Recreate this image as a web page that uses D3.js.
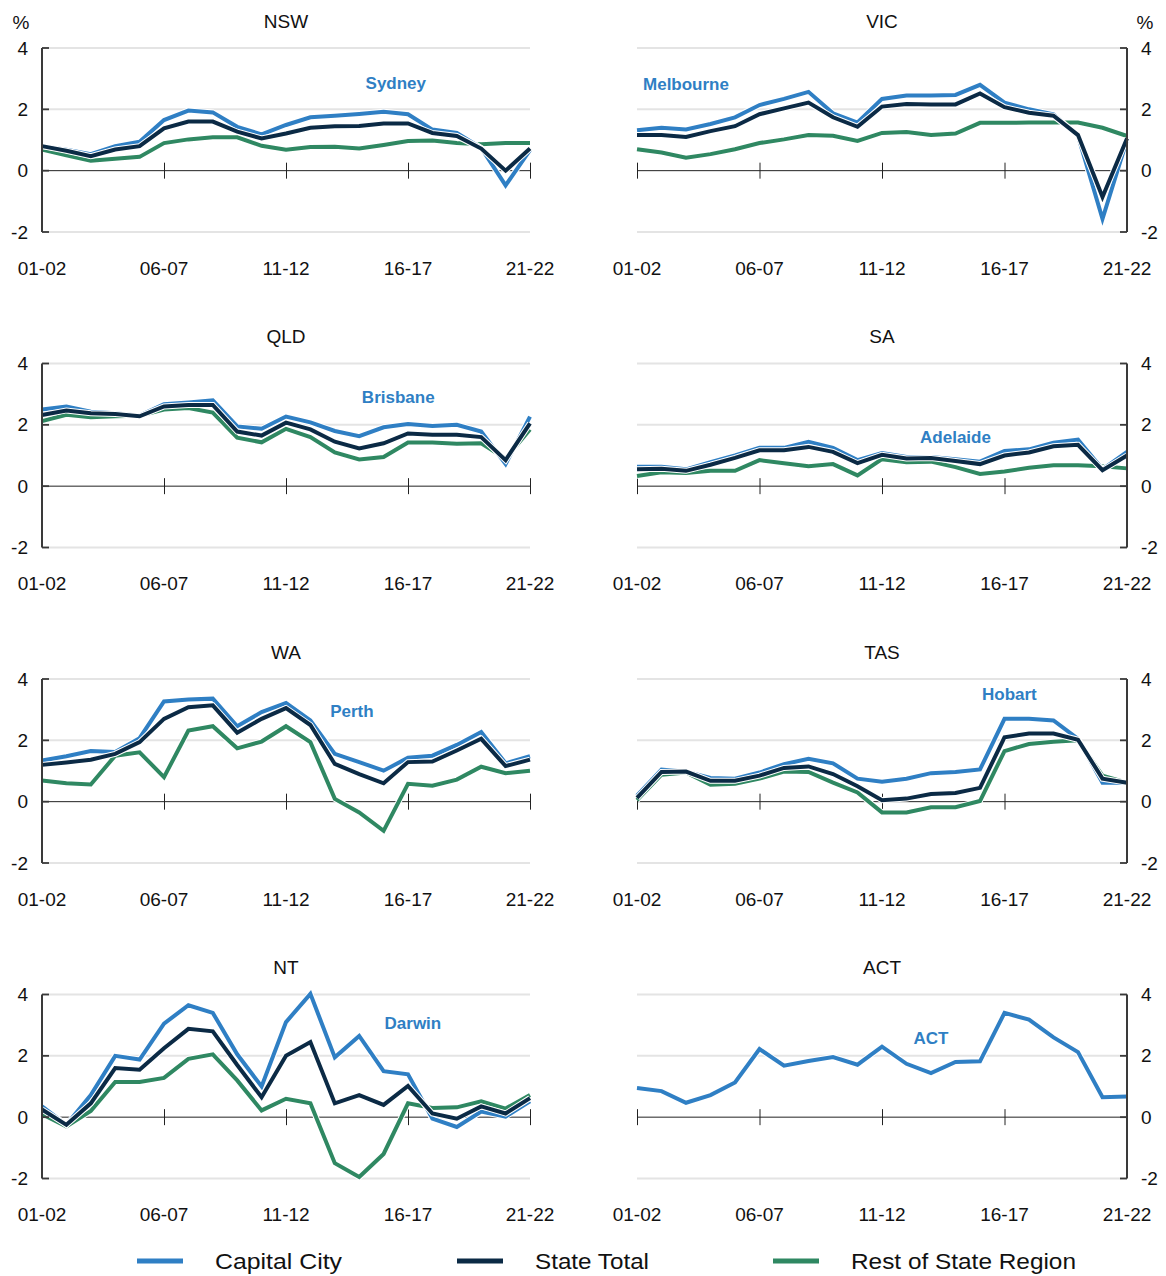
<!DOCTYPE html>
<html><head><meta charset="utf-8">
<script src="https://cdn.jsdelivr.net/npm/d3@7"></script>
<style>body{margin:0;background:#fff}svg{display:block}text{font-family:"Liberation Sans",Arial,sans-serif}</style>
</head><body><svg id="c" width="1166" height="1276"></svg>
<script>
const periods = ["01-02","02-03","03-04","04-05","05-06","06-07","07-08","08-09","09-10","10-11","11-12","12-13","13-14","14-15","15-16","16-17","17-18","18-19","19-20","20-21","21-22"];
const tickLabels = ["01-02","06-07","11-12","16-17","21-22"];
const yTicks = [4,2,0,-2];
const seriesNames = ["Capital City","State Total","Rest of State Region"];
const states = ["NSW","VIC","QLD","SA","WA","TAS","NT","ACT"];
const cityNames = ["Sydney","Melbourne","Brisbane","Adelaide","Perth","Hobart","Darwin","ACT"];

const nswCity  = [0.8,0.68,0.54,0.8,0.94,1.65,1.96,1.9,1.43,1.18,1.49,1.74,1.79,1.85,1.92,1.84,1.34,1.23,0.74,-0.48,0.67];
const nswState = [0.8,0.65,0.47,0.69,0.8,1.38,1.6,1.6,1.27,1.05,1.21,1.4,1.45,1.46,1.54,1.54,1.23,1.13,0.72,0.0,0.72];
const nswRest  = [0.69,0.5,0.32,0.39,0.45,0.9,1.02,1.09,1.09,0.81,0.68,0.77,0.78,0.72,0.84,0.97,0.98,0.9,0.86,0.9,0.9];

const vicCity  = [1.32,1.4,1.34,1.52,1.74,2.14,2.34,2.57,1.87,1.57,2.34,2.45,2.45,2.47,2.8,2.22,2.0,1.84,1.13,-1.57,1.0];
const vicState = [1.16,1.16,1.1,1.29,1.45,1.84,2.03,2.22,1.74,1.43,2.09,2.17,2.16,2.16,2.52,2.07,1.89,1.79,1.16,-0.86,1.05];
const vicRest  = [0.7,0.59,0.42,0.54,0.7,0.9,1.02,1.16,1.14,0.97,1.23,1.26,1.16,1.21,1.56,1.56,1.57,1.57,1.57,1.4,1.13];

const qldCity  = [2.5,2.6,2.43,2.38,2.3,2.67,2.73,2.8,1.95,1.87,2.27,2.08,1.8,1.63,1.92,2.03,1.96,2.0,1.78,0.72,2.27];
const qldState = [2.32,2.47,2.38,2.35,2.28,2.6,2.65,2.65,1.78,1.65,2.07,1.85,1.45,1.23,1.4,1.72,1.68,1.68,1.6,0.85,2.05];
const qldRest  = [2.12,2.33,2.25,2.28,2.3,2.5,2.55,2.4,1.58,1.43,1.87,1.6,1.1,0.87,0.95,1.42,1.42,1.38,1.4,0.9,1.85];

const saCity  = [0.63,0.63,0.55,0.78,1.0,1.25,1.25,1.45,1.25,0.85,1.08,0.95,0.95,0.88,0.8,1.15,1.2,1.42,1.52,0.55,1.12];
const saState = [0.55,0.57,0.5,0.7,0.92,1.17,1.17,1.28,1.12,0.75,1.02,0.9,0.92,0.82,0.72,1.0,1.1,1.3,1.35,0.52,1.0];
const saRest  = [0.33,0.45,0.43,0.5,0.5,0.85,0.75,0.65,0.72,0.35,0.88,0.78,0.8,0.62,0.4,0.48,0.6,0.68,0.68,0.65,0.58];

const waCity  = [1.34,1.48,1.65,1.62,2.07,3.27,3.33,3.36,2.46,2.92,3.22,2.65,1.56,1.29,1.01,1.43,1.5,1.85,2.27,1.25,1.48];
const waState = [1.2,1.28,1.37,1.56,1.94,2.7,3.08,3.14,2.25,2.7,3.05,2.5,1.23,0.9,0.6,1.29,1.31,1.67,2.05,1.16,1.37];
const waRest  = [0.69,0.6,0.56,1.5,1.61,0.8,2.32,2.46,1.74,1.96,2.46,1.94,0.09,-0.35,-0.95,0.58,0.52,0.72,1.14,0.93,1.01];

const tasCity  = [0.2,1.05,0.98,0.77,0.75,0.95,1.22,1.4,1.25,0.75,0.65,0.75,0.93,0.97,1.05,2.7,2.7,2.65,2.05,0.62,0.62];
const tasState = [0.12,0.97,0.98,0.68,0.68,0.85,1.1,1.15,0.9,0.5,0.05,0.1,0.25,0.28,0.45,2.1,2.22,2.22,2.02,0.75,0.62];
const tasRest  = [0.05,0.88,0.95,0.55,0.58,0.75,0.98,0.97,0.62,0.3,-0.35,-0.35,-0.18,-0.18,0.02,1.65,1.88,1.95,2.0,0.85,0.62];

const ntCity  = [0.35,-0.25,0.72,2.0,1.88,3.05,3.65,3.4,2.05,1.0,3.1,4.02,1.95,2.65,1.5,1.4,-0.05,-0.32,0.18,0.02,0.52];
const ntState = [0.25,-0.25,0.45,1.6,1.55,2.25,2.88,2.8,1.7,0.65,2.0,2.45,0.45,0.72,0.4,1.02,0.12,-0.05,0.35,0.12,0.62];
const ntRest  = [0.1,-0.3,0.2,1.15,1.15,1.28,1.9,2.05,1.2,0.22,0.6,0.45,-1.5,-1.95,-1.2,0.45,0.3,0.32,0.52,0.28,0.72];

const actCity = [0.95,0.85,0.47,0.72,1.13,2.22,1.68,1.83,1.96,1.71,2.3,1.74,1.44,1.8,1.82,3.4,3.18,2.6,2.12,0.65,0.67];

// label anchor in data coordinates [period index, value]
const cityLabelAt = [[14.5,2.87],[2.0,2.81],[14.6,2.9],[13.0,1.6],[12.7,2.97],[15.2,3.52],[15.2,3.07],[12.0,2.58]];

const panelSeries = [
  [nswCity,nswState,nswRest],[vicCity,vicState,vicRest],
  [qldCity,qldState,qldRest],[saCity,saState,saRest],
  [waCity,waState,waRest],[tasCity,tasState,tasRest],
  [ntCity,ntState,ntRest],[actCity,null,null]
];

const colors = ["#2f7fc4","#0b2a45","#2f8862"];
const svg = d3.select("#c");
const FS = 19;

const colX = [[42,530],[637,1127]];
const rowTop = [48,363.5,679,994.5];
const plotH = 184;

states.forEach((st,i)=>{
  const col = i%2, row = Math.floor(i/2);
  const [x0,x1] = colX[col];
  const yTop = rowTop[row];
  const x = d3.scalePoint().domain(periods).range([x0,x1]);
  const xi = d3.scaleLinear().domain([0,periods.length-1]).range([x0,x1]);
  const y = d3.scaleLinear().domain([-2,4]).range([yTop+plotH,yTop]);
  const g = svg.append("g");

  // gridlines
  g.selectAll(".grid").data(yTicks.filter(t=>t!==0)).join("line")
    .attr("x1",x0).attr("x2",x1).attr("y1",d=>y(d)).attr("y2",d=>y(d))
    .attr("stroke","#e4e4e4").attr("stroke-width",2);

  // y axis labels
  const axisX = col===0 ? x0 : x1;
  const yAxis = col===0 ? d3.axisLeft(y) : d3.axisRight(y);
  const ya = g.append("g").attr("transform",`translate(${axisX},0)`)
    .call(yAxis.tickValues(yTicks).tickSize(0).tickPadding(14).tickFormat(d=>String(d)));
  ya.select(".domain").remove();
  ya.selectAll(".tick text").attr("font-size",FS).attr("fill","#111")
    .attr("font-family",'"Liberation Sans",Arial,sans-serif');

  // zero line with ticks
  const xa = g.append("g").attr("transform",`translate(0,${y(0)})`)
    .call(d3.axisBottom(x).tickValues(tickLabels).tickSize(8).tickFormat(""));
  xa.select(".domain").attr("stroke","#222").attr("d",`M${x0},0H${x1}`);
  xa.selectAll(".tick line").attr("stroke","#222").attr("y1",-8).attr("y2",8)
    .attr("opacity", d => (col===0 && d==="01-02") || (col===1 && d==="21-22") ? 0 : 1);

  // x labels
  g.selectAll(".xl").data(tickLabels).join("text")
    .attr("x",d=>x(d)).attr("y",y(-2)+36).attr("dy","0.35em")
    .attr("text-anchor","middle").attr("font-size",FS).attr("fill","#111").text(d=>d);

  // title
  g.append("text").attr("x",(x0+x1)/2).attr("y",yTop-27).attr("dy","0.35em")
    .attr("text-anchor","middle").attr("font-size",FS).attr("fill","#111").text(st);

  // lines
  const line = d3.line().x((d,k)=>x(periods[k])).y(d=>y(d));
  const order = [2,0,1];
  order.forEach(s=>{
    const data = panelSeries[i][s];
    if(!data) return;
    g.append("path").datum(data).attr("d",line).attr("fill","none")
      .attr("stroke","#fff").attr("stroke-width",6).attr("stroke-linejoin","miter");
    g.append("path").datum(data).attr("d",line).attr("fill","none")
      .attr("stroke",colors[s]).attr("stroke-width",4).attr("stroke-linejoin","miter");
  });

  // y axis line and inward ticks
  const dir = col===0 ? 1 : -1;
  g.append("line").attr("x1",axisX).attr("x2",axisX).attr("y1",y(4)).attr("y2",y(-2))
    .attr("stroke","#3a3a3a").attr("stroke-width",2);
  g.selectAll(".ytk").data(yTicks).join("line")
    .attr("x1",axisX).attr("x2",axisX + dir*7)
    .attr("y1",d=>y(d)).attr("y2",d=>y(d)).attr("stroke","#3a3a3a").attr("stroke-width",1.8);

  // city label
  g.append("text").attr("x",xi(cityLabelAt[i][0])).attr("y",y(cityLabelAt[i][1])).attr("dy","0.35em")
    .attr("text-anchor","middle").attr("font-size",17).attr("font-weight","bold")
    .attr("fill",colors[0]).text(cityNames[i]);
});

// % units
svg.append("text").attr("x",21).attr("y",22).attr("dy","0.35em").attr("text-anchor","middle")
  .attr("font-size",FS).attr("fill","#111").text("%");
svg.append("text").attr("x",1145).attr("y",22).attr("dy","0.35em").attr("text-anchor","middle")
  .attr("font-size",FS).attr("fill","#111").text("%");

// legend
const legX = [137,457,773];
const legW = [127,114,225];
const legend = svg.append("g");
seriesNames.forEach((n,k)=>{
  legend.append("line").attr("x1",legX[k]).attr("x2",legX[k]+46).attr("y1",1261).attr("y2",1261)
    .attr("stroke",colors[k]).attr("stroke-width",5);
  legend.append("text").attr("x",legX[k]+78).attr("y",1261).attr("dy","0.35em")
    .attr("font-size",22).attr("fill","#111")
    .attr("textLength",legW[k]).attr("lengthAdjust","spacingAndGlyphs").text(n);
});
</script></body></html>
